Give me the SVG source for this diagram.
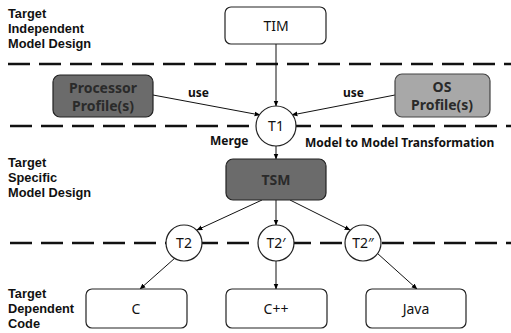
<svg xmlns="http://www.w3.org/2000/svg" width="511" height="333" viewBox="0 0 511 333">
  <defs>
    <marker id="arrow" viewBox="0 0 10 10" refX="9" refY="5" markerWidth="6" markerHeight="6" orient="auto">
      <path d="M0,1 L10,5 L0,9 z" fill="#000"/>
    </marker>
  </defs>
  <style>
    .lbl { font-family: "Noto Sans", "Open Sans", sans-serif; font-weight: bold; font-size: 12px; fill: #111; }
    .cap { font-family: "Liberation Sans", Arial, sans-serif; font-weight: bold; font-size: 12.8px; fill: #111; }
    .node { fill: #fff; stroke: #222; stroke-width: 1.2; }
    .dark { fill: #6b6b6b; stroke: #222; stroke-width: 1.2; }
    .light { fill: #a8a8a8; stroke: #444; stroke-width: 1.2; }
    .ntxt { font-family: "Noto Sans", "Open Sans", sans-serif; font-size: 14px; fill: #111; text-anchor: middle; }
    .gtxt { font-family: "Noto Sans", "Open Sans", sans-serif; font-size: 14px; font-weight: bold; fill: #2a2a2a; text-anchor: middle; }
    .dash { stroke: #111; stroke-width: 2.6; stroke-dasharray: 22 9; fill: none; }
    .edge { stroke: #111; stroke-width: 1; fill: none; marker-end: url(#arrow); }
  </style>

  <rect width="511" height="333" fill="#fff"/>

  <!-- layer separators -->
  <g id="separators">
    <line class="dash" x1="8" y1="64" x2="511" y2="64"/>
    <line class="dash" x1="10" y1="126" x2="511" y2="126"/>
    <line class="dash" x1="10" y1="243" x2="511" y2="243"/>
  </g>

  <!-- layer captions -->
  <g id="captions">
    <text class="cap" x="8" y="18">Target</text>
    <text class="cap" x="8" y="33">Independent</text>
    <text class="cap" x="8" y="48">Model Design</text>
    <text class="cap" x="8" y="167">Target</text>
    <text class="cap" x="8" y="182">Specific</text>
    <text class="cap" x="8" y="197">Model Design</text>
    <text class="cap" x="8" y="298">Target</text>
    <text class="cap" x="8" y="313">Dependent</text>
    <text class="cap" x="8" y="328">Code</text>
  </g>

  <!-- connectors -->
  <g id="connectors">
    <line class="edge" x1="276" y1="44" x2="276" y2="106"/>
    <line class="edge" x1="153" y1="95" x2="260" y2="115"/>
    <line class="edge" x1="395" y1="95" x2="292" y2="115"/>
    <line class="edge" x1="276" y1="146" x2="276" y2="159"/>
    <line class="edge" x1="262" y1="200" x2="197" y2="230"/>
    <line class="edge" x1="276" y1="200" x2="276" y2="225"/>
    <line class="edge" x1="290" y1="200" x2="350" y2="230"/>
    <line class="edge" x1="175" y1="258" x2="140" y2="289"/>
    <line class="edge" x1="276" y1="261" x2="276" y2="289"/>
    <line class="edge" x1="377" y1="253" x2="417" y2="289"/>
    <text class="lbl" x="188" y="97">use</text>
    <text class="lbl" x="343" y="97">use</text>
    <text class="lbl" x="210" y="145">Merge</text>
    <text class="lbl" x="305" y="147">Model to Model Transformation</text>
  </g>

  <g id="tim">
    <rect class="node" x="225" y="7" width="101" height="37" rx="6"/>
    <text class="ntxt" x="276" y="31">TIM</text>
  </g>

  <g id="processor-profiles">
    <rect class="dark" x="53" y="75" width="100" height="42" rx="7"/>
    <text class="gtxt" x="103" y="93">Processor</text>
    <text class="gtxt" x="103" y="111">Profile(s)</text>
  </g>

  <g id="os-profiles">
    <rect class="light" x="395" y="74" width="95" height="43" rx="7"/>
    <text class="gtxt" x="442" y="92">OS</text>
    <text class="gtxt" x="442" y="110">Profile(s)</text>
  </g>

  <g id="t1">
    <circle class="node" cx="276" cy="126" r="20"/>
    <text class="ntxt" x="276" y="131">T1</text>
  </g>

  <g id="tsm">
    <rect class="dark" x="226" y="159" width="100" height="41" rx="7"/>
    <text class="gtxt" x="276" y="185">TSM</text>
  </g>

  <g id="t2">
    <circle class="node" cx="184" cy="243" r="18"/>
    <text class="ntxt" x="184" y="248">T2</text>
  </g>
  <g id="t2-prime">
    <circle class="node" cx="276" cy="243" r="18"/>
    <text class="ntxt" x="276" y="248">T2′</text>
  </g>
  <g id="t2-double-prime">
    <circle class="node" cx="363" cy="243" r="18"/>
    <text class="ntxt" x="363" y="248">T2″</text>
  </g>

  <g id="code-c">
    <rect class="node" x="86" y="289" width="101" height="39" rx="6"/>
    <text class="ntxt" x="136" y="314">C</text>
  </g>
  <g id="code-cpp">
    <rect class="node" x="226" y="289" width="101" height="39" rx="6"/>
    <text class="ntxt" x="276" y="314">C++</text>
  </g>
  <g id="code-java">
    <rect class="node" x="366" y="289" width="100" height="39" rx="6"/>
    <text class="ntxt" x="416" y="314">Java</text>
  </g>
</svg>
